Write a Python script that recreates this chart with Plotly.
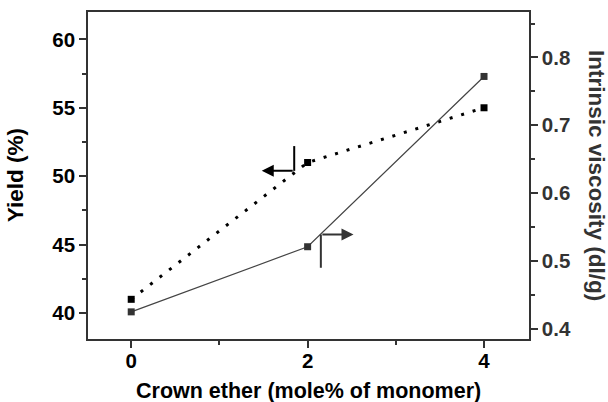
import plotly.graph_objects as go

# Data
crown_ether = [0, 2, 4]
yield_pct = [41.0, 51.0, 55.0]
intrinsic_viscosity = [0.425, 0.521, 0.772]

x_ticks = [0, 2, 4]
y_ticks = [40, 45, 50, 55, 60]
y2_ticks = [0.4, 0.5, 0.6, 0.7, 0.8]

FONT = "Liberation Sans, Arial, sans-serif"
AX = "#333333"

fig = go.Figure()
fig.add_trace(go.Scatter(
    x=crown_ether, y=yield_pct, mode="lines+markers",
    line=dict(color="black", width=3, dash="3px,9px"),
    marker=dict(symbol="square", size=7, color="black"),
    yaxis="y", showlegend=False))
fig.add_trace(go.Scatter(
    x=crown_ether, y=intrinsic_viscosity, mode="lines+markers",
    line=dict(color="#444444", width=1.2),
    marker=dict(symbol="square", size=7, color="#333333"),
    yaxis="y2", showlegend=False))

# Arrows indicating which axis each curve belongs to
fig.add_shape(type="line", xref="x", yref="y", x0=1.848, x1=1.848, y0=52.2, y1=50.39,
              line=dict(color="black", width=2))
fig.add_annotation(x=1.48, y=50.39, ax=1.848, ay=50.39, xref="x", yref="y",
                   axref="x", ayref="y", text="", showarrow=True,
                   arrowhead=2, arrowsize=1.2, arrowwidth=2, arrowcolor="black", standoff=0)
fig.add_shape(type="line", xref="x", yref="y2", x0=2.15, x1=2.15, y0=0.539, y1=0.49,
              line=dict(color=AX, width=2))
fig.add_annotation(x=2.52, y=0.539, ax=2.15, ay=0.539, xref="x", yref="y2",
                   axref="x", ayref="y2", text="", showarrow=True,
                   arrowhead=2, arrowsize=1.2, arrowwidth=2, arrowcolor=AX, standoff=0)

# Axis titles
fig.add_annotation(text="Yield (%)", xref="paper", yref="paper",
                   x=-0.164, y=0.5, xanchor="center", yanchor="middle",
                   textangle=-90, showarrow=False,
                   font=dict(family=FONT, size=22.5, color="black", weight="bold"))
fig.add_annotation(text="Intrinsic viscosity (dl/g)", xref="paper", yref="paper",
                   x=1.153, y=0.5, xanchor="center", yanchor="middle",
                   textangle=90, showarrow=False,
                   font=dict(family=FONT, size=22.5, color=AX, weight="bold"))
fig.add_annotation(text="Crown ether (mole% of monomer)", xref="paper", yref="paper",
                   x=0.5, y=-0.158, xanchor="center", yanchor="middle",
                   showarrow=False,
                   font=dict(family=FONT, size=21.5, color="black", weight="bold"))

tick_font = dict(family=FONT, size=20.5, color="black", weight="bold")

fig.update_layout(
    width=608, height=402,
    margin=dict(l=88, r=79, t=12, b=63),
    paper_bgcolor="white", plot_bgcolor="white",
    font=dict(family=FONT, size=18, color="black"),
    xaxis=dict(
        range=[-0.49, 4.51], tickvals=x_ticks, automargin=False,
        ticks="outside", ticklen=7, tickwidth=1.5, tickcolor=AX,
        ticklabelstandoff=-4,
        minor=dict(dtick=1, ticks="outside", ticklen=4, tickwidth=1.5, tickcolor=AX),
        showline=True, linecolor=AX, linewidth=1.5, mirror=True,
        showgrid=False, zeroline=False,
        tickfont=tick_font,
    ),
    yaxis=dict(
        range=[38.1, 62.0], tickvals=y_ticks, automargin=False,
        ticks="outside", ticklen=7, tickwidth=1.5, tickcolor=AX,
        minor=dict(dtick=2.5, ticks="outside", ticklen=4, tickwidth=1.5, tickcolor=AX),
        showline=True, linecolor=AX, linewidth=1.5,
        showgrid=False, zeroline=False,
        tickfont=tick_font,
    ),
    yaxis2=dict(
        range=[0.385, 0.867], tickvals=y2_ticks, overlaying="y", side="right",
        automargin=False,
        ticks="outside", ticklen=7, tickwidth=1.5, tickcolor=AX,
        minor=dict(dtick=0.05, ticks="outside", ticklen=4, tickwidth=1.5, tickcolor=AX),
        showline=True, linecolor=AX, linewidth=1.5,
        showgrid=False, zeroline=False,
        tickfont=dict(family=FONT, size=20.5, color=AX, weight="bold"),
    ),
)

fig.write_html("out.html", config={"displayModeBar": False},
               post_script="document.body.style.margin='0px';document.body.style.padding='0px';")
